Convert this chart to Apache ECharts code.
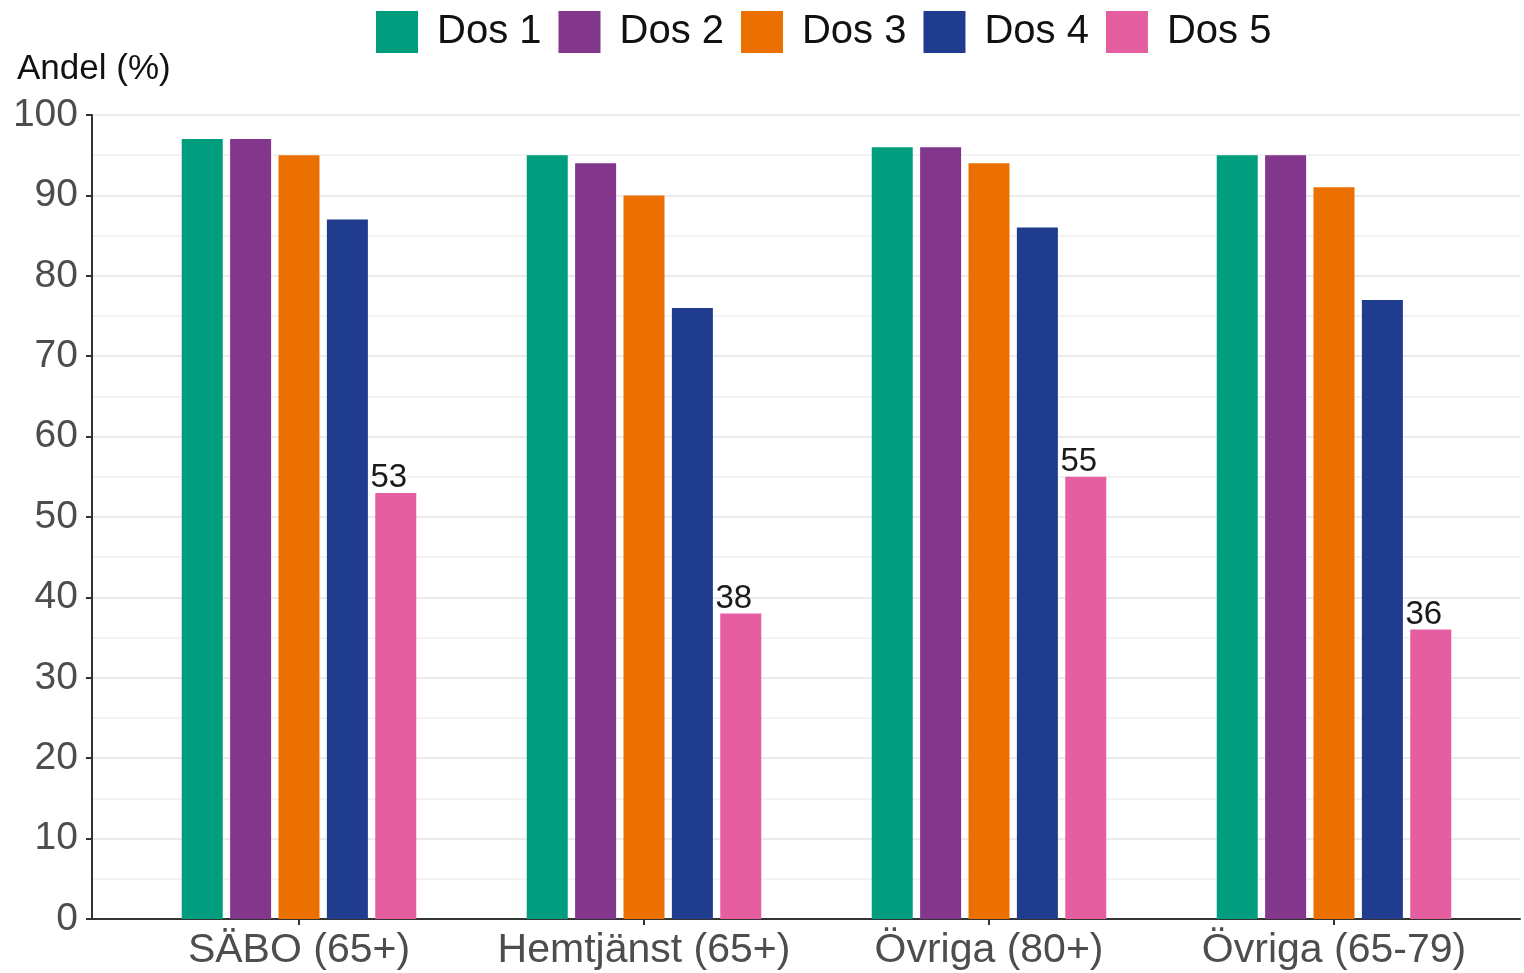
<!DOCTYPE html>
<html>
<head>
<meta charset="utf-8">
<script src="https://cdn.jsdelivr.net/npm/echarts@6/dist/echarts.min.js"></script>
<style>
html,body{margin:0;padding:0;background:#fff;}
#chart{width:1524px;height:973px;}
</style>
</head>
<body>
<div id="chart"></div>
<script>
const categories = ['SÄBO (65+)', 'Hemtjänst (65+)', 'Övriga (80+)', 'Övriga (65-79)'];
const seriesNames = ['Dos 1', 'Dos 2', 'Dos 3', 'Dos 4', 'Dos 5'];
const dos1 = [97, 95, 96, 95];
const dos2 = [97, 94, 96, 95];
const dos3 = [95, 90, 94, 91];
const dos4 = [87, 76, 86, 77];
const dos5 = [53, 38, 55, 36];
const yTicks = [0, 10, 20, 30, 40, 50, 60, 70, 80, 90, 100];
const colors = ['#009E7E', '#82368C', '#EC7000', '#1F3C8F', '#E55FA0'];

const FONT = 'Liberation Sans, Arial, sans-serif';
const values = [dos1, dos2, dos3, dos4, dos5];

const chart = echarts.init(document.getElementById('chart'), null, {renderer: 'canvas'});

const series = seriesNames.map((name, i) => ({
  name: name,
  type: 'bar',
  xAxisIndex: 1,
  yAxisIndex: 1,
  data: values[i],
  barWidth: 41,
  barGap: '18%',
  itemStyle: {color: colors[i]},
  label: i === 4 ? {
    show: true,
    position: 'top',
    distance: 1,
    offset: [-7, 3],
    fontFamily: FONT,
    fontSize: 33,
    color: '#1a1a1a'
  } : {show: false}
}));

chart.setOption({
  animation: false,
  textStyle: {fontFamily: FONT},
  title: {
    text: 'Andel (%)',
    left: 12,
    top: 47,
    textStyle: {fontFamily: FONT, fontSize: 35, fontWeight: 'normal', color: '#111'}
  },
  legend: {
    data: seriesNames,
    top: 6,
    left: 371,
    itemWidth: 42,
    itemHeight: 42,
    itemGap: 17,
    icon: 'rect',
    textStyle: {fontFamily: FONT, fontSize: 40, color: '#111', padding: [4, 0, 0, 14]}
  },
  grid: [
    {left: 92, right: 4, top: 115, bottom: 54},
    {left: 126.5, right: 17.5, top: 115, bottom: 54}
  ],
  xAxis: [
    {
      gridIndex: 0,
      type: 'value',
      min: 0,
      max: 1,
      axisLine: {show: true, onZero: false, lineStyle: {color: '#333', width: 2}},
      axisTick: {show: false},
      axisLabel: {show: false},
      splitLine: {show: false}
    },
    {
      gridIndex: 1,
      type: 'category',
      data: categories,
      axisLine: {show: false},
      axisTick: {show: true, alignWithLabel: true, length: 6, lineStyle: {color: '#333', width: 2}},
      axisLabel: {fontFamily: FONT, fontSize: 41, color: '#4d4d4d', margin: 11, interval: 0},
      splitLine: {show: false}
    }
  ],
  yAxis: [
    {
      gridIndex: 0,
      type: 'value',
      min: 0,
      max: 100,
      interval: 10,
      axisLine: {show: true, lineStyle: {color: '#333', width: 2}},
      axisTick: {show: true, length: 6, lineStyle: {color: '#333', width: 2}},
      axisLabel: {
        fontFamily: FONT, fontSize: 39, color: '#4d4d4d', margin: 14,
        formatter: v => yTicks.includes(v) ? String(v) : ''
      },
      splitLine: {show: true, lineStyle: {color: '#ebebeb', width: 2}},
      minorTick: {show: false, splitNumber: 2},
      minorSplitLine: {show: true, lineStyle: {color: '#f3f3f3', width: 2}}
    },
    {
      gridIndex: 1,
      type: 'value',
      min: 0,
      max: 100,
      show: false
    }
  ],
  series: series
});
</script>
</body>
</html>
